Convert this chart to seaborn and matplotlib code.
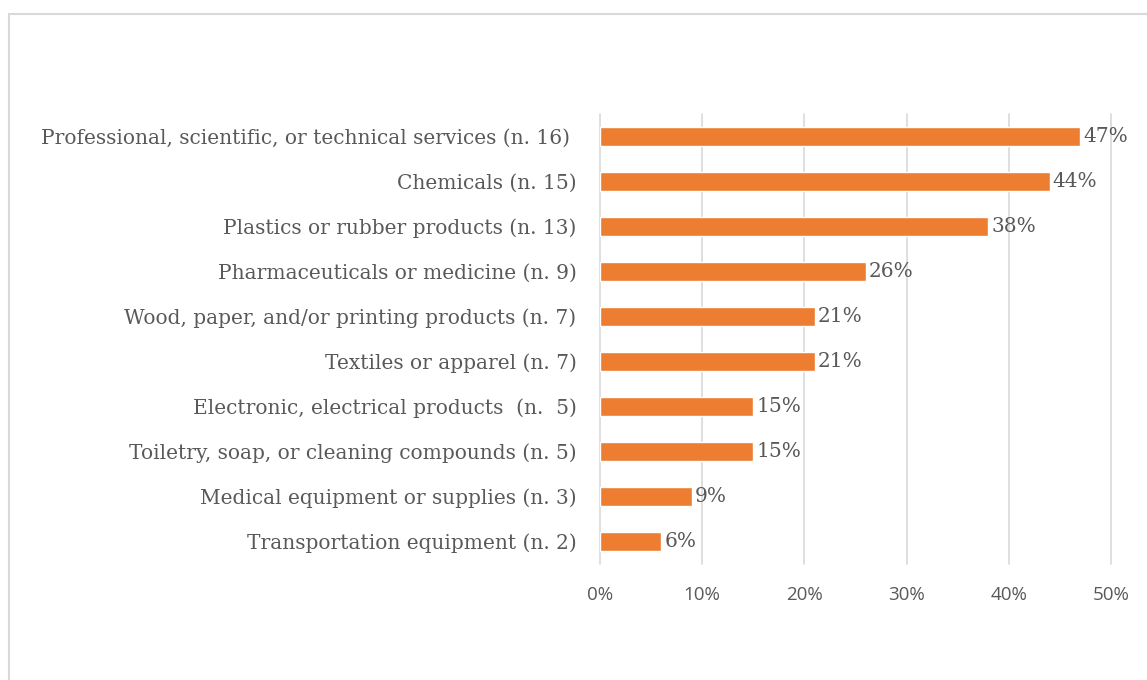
import numpy as np
import pandas as pd
import matplotlib.pyplot as plt
import matplotlib.patches as mpatches
from matplotlib.ticker import FuncFormatter
import seaborn as sns

categories = [
    "Professional, scientific, or technical services (n. 16) ",
    "Chemicals (n. 15)",
    "Plastics or rubber products (n. 13)",
    "Pharmaceuticals or medicine (n. 9)",
    "Wood, paper, and/or printing products (n. 7)",
    "Textiles or apparel (n. 7)",
    "Electronic, electrical products  (n.  5)",
    "Toiletry, soap, or cleaning compounds (n. 5)",
    "Medical equipment or supplies (n. 3)",
    "Transportation equipment (n. 2)",
]
shares = [47, 44, 38, 26, 21, 21, 15, 15, 9, 6]
x_ticks = [0, 10, 20, 30, 40, 50]

ORANGE = "#ED7D31"
TEXT = "#595959"
GRID = "#D9D9D9"
SERIF = "DejaVu Serif"

df = pd.DataFrame({"category": categories, "share": shares})

sns.set_theme(style="white")
plt.rcParams["font.family"] = ["DejaVu Sans"]

fig = plt.figure(figsize=(11.47, 6.8), dpi=100)
ax = fig.add_axes([600 / 1147, 1 - 564 / 680, 511 / 1147, 450 / 680])

sns.barplot(data=df, x="share", y="category", orient="h", color=ORANGE,
            saturation=1, width=0.43, ax=ax, zorder=3)

ax.set_xlim(0, 50)
ax.set_xticks(x_ticks)
ax.xaxis.set_major_formatter(FuncFormatter(lambda v, _: f"{v:.0f}%"))
ax.grid(axis="x", color=GRID, linewidth=1.2, zorder=0)
ax.grid(axis="y", visible=False)
ax.set_axisbelow(True)
for line in ax.get_xgridlines():
    line.set_clip_on(False)
for s in ax.spines.values():
    s.set_visible(False)
ax.set_xlabel("")
ax.set_ylabel("")
ax.tick_params(axis="both", length=0)
ax.tick_params(axis="y", pad=17, labelsize=14.5, labelcolor=TEXT)
ax.tick_params(axis="x", pad=16, labelsize=13.5, labelcolor=TEXT)
for lbl in ax.get_yticklabels():
    lbl.set_fontfamily(SERIF)
for lbl in ax.get_xticklabels():
    lbl.set_fontfamily("Open Sans")

for i, v in enumerate(shares):
    ax.text(v + 0.3, i, f"{v}%", va="center", ha="left",
            fontsize=14.5, color=TEXT, family=SERIF)

# outer chart frame (clipped on the right and bottom)
fig.patches.append(mpatches.Rectangle((9 / 1147, -0.2), 1.2, 1.2 - 14 / 680,
                                      transform=fig.transFigure, fill=False,
                                      edgecolor=GRID, linewidth=1.5))

fig.savefig("out.png", dpi=100)
